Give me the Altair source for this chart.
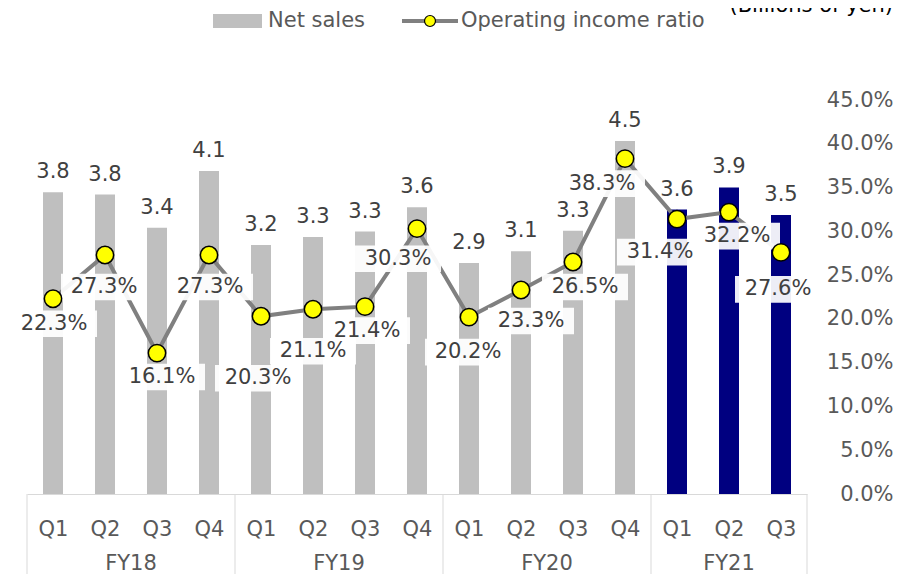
import altair as alt
import pandas as pd

# ---------------- data ----------------
fiscal_years = ["FY18"] * 4 + ["FY19"] * 4 + ["FY20"] * 4 + ["FY21"] * 3
quarters = ["Q1", "Q2", "Q3", "Q4"] * 3 + ["Q1", "Q2", "Q3"]
net_sales = [3.83, 3.80, 3.38, 4.10, 3.16, 3.26, 3.33, 3.64, 2.93, 3.08, 3.34, 4.48, 3.61, 3.89, 3.54]
op_ratio = [22.3, 27.3, 16.1, 27.3, 20.3, 21.1, 21.4, 30.3, 20.2, 23.3, 26.5, 38.3, 31.4, 32.2, 27.6]
highlight_year = "FY21"
legend_labels = ["Net sales", "Operating income ratio"]
unit_label = "(Billions of yen)"
ratio_ticks = [0, 5, 10, 15, 20, 25, 30, 35, 40, 45]

# ---------------- style ----------------
W, H = 780, 394
FONT = "DejaVu Sans"
FS = 21
GRAY_BAR = "#BFBFBF"
NAVY = "#000080"
LINE = "#808080"
TEXT = "#404040"
AXIS_TEXT = "#595959"
SEP = "#D9D9D9"
BOX_SHAPE = "M-1,-0.31L1,-0.31L1,0.31L-1,0.31Z"
# ratio label placement (pixel offsets from each point, like the source's label layout)
label_dx = [1, -1, 5, 1, -3, 0, 2, -19, -1, 10, 12, -23, -17, 8, -3]
label_dy = [25, 32, 24, 32, 62, 42, 24, 30, 35, 31, 25, 25, 33, 24, 37]

df = pd.DataFrame({"fy": fiscal_years, "q": quarters, "sales": net_sales, "ratio": op_ratio,
                   "ldx": label_dx, "ldy": label_dy})
df["idx"] = range(len(df))
N = len(df)

groups = df.groupby("fy")["idx"].agg(["min", "max"]).reset_index()
fy_df = pd.DataFrame({"fy": groups["fy"], "idx": (groups["min"] + groups["max"]) / 2})
sep_df = pd.DataFrame({"idx": list(groups["min"] - 0.5) + [groups["max"].max() + 0.5]})
dummy = pd.DataFrame({"d": [0]})

q_expr = "[" + ",".join(f"'{q}'" for q in quarters) + "][datum.value]"

x_scale = alt.Scale(domain=[-0.5, N - 0.5], nice=False, zero=False, padding=0)
x_axis = alt.Axis(
    values=list(range(N)), labelExpr=q_expr, title=None, ticks=False, grid=False,
    domainColor=SEP, domainWidth=1, labelFont=FONT, labelFontSize=FS, labelColor=AXIS_TEXT,
    labelPadding=35, labelBaseline="middle", labelAlign="center", labelOverlap=False,
    labelFlush=False,
)
X = alt.X("idx:Q", scale=x_scale, axis=x_axis)
X_label = alt.X("label_x:Q", scale=x_scale, axis=x_axis)

sales_scale = alt.Scale(domain=[0, 5], nice=False, padding=0)
ratio_scale = alt.Scale(domain=[0, 45], nice=False, padding=0)

Y_sales = alt.Y("sales:Q", scale=sales_scale, axis=None)
Y_ratio_axis = alt.Y(
    "ratio:Q", scale=ratio_scale,
    axis=alt.Axis(
        orient="right", values=ratio_ticks, labelExpr="format(datum.value,'.1f')+'%'",
        title=None, ticks=False, domain=False, grid=False, labelFont=FONT, labelFontSize=FS,
        labelColor=AXIS_TEXT, labelAlign="right", labelPadding=86, labelBaseline="middle",
    ),
)
Y_ratio = alt.Y("ratio:Q", scale=ratio_scale, axis=None)
Y_label = alt.Y("label_y:Q", scale=ratio_scale, axis=None)

base = alt.Chart(df)

bars = base.mark_bar(size=20).encode(
    x=X, y=Y_sales,
    color=alt.condition(alt.datum.fy == highlight_year, alt.value(NAVY), alt.value(GRAY_BAR)),
)
bar_labels = base.mark_text(dy=-14, baseline="alphabetic", font=FONT, fontSize=FS, color=TEXT).encode(
    x=X, y=Y_sales, text=alt.Text("sales:Q", format=".1f")
)
line = base.mark_line(color=LINE, strokeWidth=4).encode(x=X, y=Y_ratio_axis)

lab = base.transform_calculate(
    label_y=f"datum.ratio - datum.ldy * 45 / {H}",
    label_x=f"datum.idx + datum.ldx * {N} / {W}",
    label="format(datum.ratio,'.1f') + '%'",
)
boxes = lab.mark_point(shape=BOX_SHAPE, size=86 ** 2, filled=True, color="white",
                       opacity=0.93, strokeWidth=0).encode(x=X_label, y=Y_label)
ratio_labels = lab.mark_text(baseline="middle", font=FONT, fontSize=FS, color=TEXT).encode(
    x=X_label, y=Y_label, text="label:N"
)
points = base.mark_point(shape="circle", size=300, filled=True, fill="#FFFF00", stroke="#000000",
                         strokeWidth=1.5, opacity=1).encode(x=X, y=Y_ratio)

seps = alt.Chart(sep_df).mark_rule(color=SEP, strokeWidth=1).encode(
    x=X, y=alt.value(H), y2=alt.value(H + 95)
)
fy_labels = alt.Chart(fy_df).mark_text(baseline="middle", font=FONT, fontSize=FS, color=AXIS_TEXT).encode(
    x=X, y=alt.value(H + 70), text="fy:N"
)

# legend (drawn manually)
leg_rect = alt.Chart(dummy).mark_rect(color=GRAY_BAR).encode(
    x=alt.value(186), x2=alt.value(235), y=alt.value(-86), y2=alt.value(-72)
)
leg_t1 = alt.Chart(dummy).mark_text(align="left", baseline="middle", font=FONT, fontSize=FS,
                                    color=AXIS_TEXT).encode(
    x=alt.value(241), y=alt.value(-79), text=alt.value(legend_labels[0])
)
leg_line = alt.Chart(dummy).mark_rule(color=LINE, strokeWidth=4).encode(
    x=alt.value(375), x2=alt.value(431), y=alt.value(-79)
)
leg_pt = alt.Chart(dummy).mark_point(shape="circle", size=120, filled=True, fill="#FFFF00",
                                     stroke="#000000", strokeWidth=1.2, opacity=1).encode(
    x=alt.value(403), y=alt.value(-79)
)
leg_t2 = alt.Chart(dummy).mark_text(align="left", baseline="middle", font=FONT, fontSize=FS,
                                    color=AXIS_TEXT).encode(
    x=alt.value(434), y=alt.value(-79), text=alt.value(legend_labels[1])
)
unit = alt.Chart(dummy).mark_text(align="right", baseline="alphabetic", font=FONT, fontSize=FS,
                                  color="#000000").encode(
    x=alt.value(866), y=alt.value(-88), text=alt.value(unit_label)
)

chart = alt.layer(
    bars, bar_labels, seps, fy_labels, line, boxes, ratio_labels, points,
    leg_rect, leg_t1, leg_line, leg_pt, leg_t2, unit,
).resolve_scale(y="independent").properties(
    width=W, height=H, autosize=alt.AutoSizeParams(type="none"),
    padding={"left": 19, "top": 92, "right": 87, "bottom": 80},
    background="white",
).configure_view(stroke=None)

chart.save("out.html", embed_options={"renderer": "svg", "actions": False})
